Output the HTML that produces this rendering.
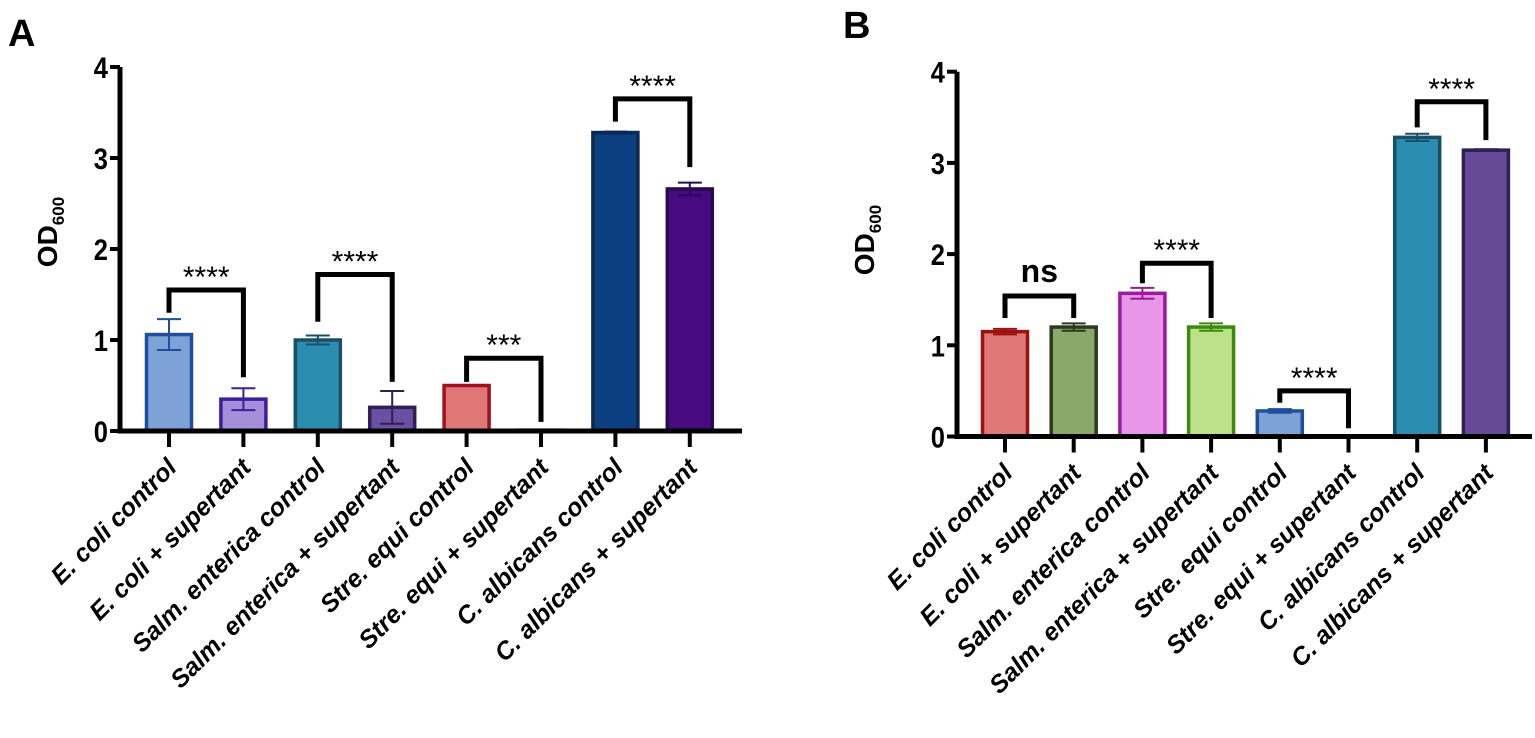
<!DOCTYPE html>
<html><head><meta charset="utf-8">
<style>
html,body{margin:0;padding:0;background:#fff;}
svg{display:block;font-family:"Liberation Sans",Arial,sans-serif;}
</style></head>
<body>
<svg id="fig" width="1535" height="738" viewBox="0 0 1535 738">
<text x="8" y="46" font-size="38" font-weight="bold">A</text>
<text x="843" y="38" font-size="38" font-weight="bold">B</text>
<g id="pa"></g>
<g id="pb"></g>
</svg>
<script>
const categories = ["E. coli control","E. coli + supertant","Salm. enterica control","Salm. enterica + supertant","Stre. equi control","Stre. equi + supertant","C. albicans control","C. albicans + supertant"];
const yTicks = [0,1,2,3,4];
const valuesA = [1.06,0.35,1.0,0.26,0.5,0.01,3.28,2.66];
const errorsA = [0.17,0.12,0.05,0.18,0,0,0.01,0.07];
const valuesB = [1.15,1.2,1.57,1.2,0.28,0,3.28,3.14];
const errorsB = [0.03,0.04,0.06,0.04,0.02,0,0.04,0.01];
const sigLabelsA = ["****","****","***","****"];
const sigTopsA = [1.55,1.72,0.8,3.65];
const sigLeftA = [1.3,1.2,0.54,3.4];
const sigRightA = [0.59,0.54,0.1,2.9];
const sigLabelsB = ["ns","****","****","****"];
const sigTopsB = [1.54,1.9,0.5,3.67];
const sigLeftB = [1.3,1.68,0.37,3.39];
const sigRightB = [1.3,1.3,0.09,3.25];
const fillA = ["#7ea2d6","#a68fd9","#2b8db0","#6b4fa0","#e07777","#cccccc","#0b3f7f","#470a80"];
const strokeA = ["#1f4e9c","#3d1f9c","#1a4f66","#2e1f55","#a01020","#888888","#0a2a50","#2a0a50"];
const fillB = ["#e07777","#8aa86a","#e896e8","#bde08a","#7ea2d6","#cccccc","#2b8db0","#664a96"];
const strokeB = ["#9c1010","#2a3a20","#9c1a9c","#3d8a10","#1f4e9c","#888888","#1a4f66","#2e1f55"];

const NS="http://www.w3.org/2000/svg";
function mk(parent,tag,attrs){const e=document.createElementNS(NS,tag);for(const k in attrs)e.setAttribute(k,attrs[k]);parent.appendChild(e);return e;}

function drawPanel(g,cfg){
  const y=v=>cfg.y0-v*cfg.unit;
  const x=i=>cfg.xs0+i*cfg.dx;
  const bw=cfg.bw;
  cfg.values.forEach((v,i)=>{
    if(v<=0.001 && i===5){ return; }
    const r=mk(g,'rect',{x:x(i)-bw/2,y:y(v),width:bw,height:Math.max(1,y(0)-y(v)),fill:cfg.fill[i],stroke:cfg.stroke[i],'stroke-width':3.5});
    
    
    const e=cfg.errors[i];
    if(e>0){
      const eb=mk(g,'path',{d:`M${x(i)} ${y(v+e)}V${y(Math.max(0,v-e))}M${x(i)-12} ${y(v+e)}H${x(i)+12}M${x(i)-12} ${y(Math.max(0,v-e))}H${x(i)+12}`,stroke:cfg.stroke[i],'stroke-width':2,fill:'none'});
      
      
    }
  });
  if(cfg.values[5]<=0.001){
    const r=mk(g,'rect',{x:x(5)-bw/2+4,y:y(0)-2,width:bw-8,height:2,fill:'#999'});
    
    
  }
  const ax=mk(g,'path',{d:`M${cfg.axX} ${y(4)}V${y(0)}H${cfg.axEnd}`,stroke:'#000','stroke-width':5,fill:'none'});
  
  
  yTicks.forEach(t=>{
    const tk=mk(g,'line',{x1:cfg.axX-10,x2:cfg.axX,y1:y(t),y2:y(t),stroke:'#000','stroke-width':4});
    
    
    const tl=mk(g,'text',{x:cfg.axX-12,y:y(t)+11,'text-anchor':'end','font-size':30,'font-weight':'bold',transform:`translate(${cfg.axX-12} 0) scale(0.85 1) translate(${-(cfg.axX-12)} 0)`});
    tl.textContent=t;
    
    
  });
  categories.forEach((c,i)=>{
    const tk=mk(g,'line',{x1:x(i),x2:x(i),y1:y(0),y2:y(0)+16,stroke:'#000','stroke-width':4});
    
    
    const lx=x(i)+9, ly=y(0)+38;
    const tl=mk(g,'text',{x:lx,y:ly,'text-anchor':'end','font-size':25,'font-weight':'bold','font-style':'italic',transform:`rotate(-45 ${lx} ${ly})`});
    tl.textContent=c;
    
    
  });
  cfg.sig.forEach((s,k)=>{
    const i0=k*2, i1=k*2+1;
    const br=mk(g,'path',{d:`M${x(i0)} ${y(cfg.sigL[k])}V${y(cfg.sigT[k])}H${x(i1)}V${y(cfg.sigR[k])}`,stroke:'#000','stroke-width':5,fill:'none'});
    
    
    const isNs=s==='ns';
    const st=mk(g,'text',{x:(x(i0)+x(i1))/2,y:y(cfg.sigT[k])+(isNs?-14:-3),'text-anchor':'middle','font-size':isNs?32:30,'font-weight':isNs?'bold':'normal'});
    st.textContent=s;
    
    
  });
  const yt=mk(g,'text',{x:cfg.titleX,y:cfg.titleY,'text-anchor':'middle','font-size':28,'font-weight':'bold',transform:`rotate(-90 ${cfg.titleX} ${cfg.titleY})`});
  yt.innerHTML='OD<tspan font-size="17" dy="7">600</tspan>';
  
  
}

drawPanel(document.getElementById('pa'),{y0:431,unit:91,xs0:169,dx:74.4,bw:45,axX:120,axEnd:742,values:valuesA,errors:errorsA,fill:fillA,stroke:strokeA,sig:sigLabelsA,sigT:sigTopsA,sigL:sigLeftA,sigR:sigRightA,titleX:57,titleY:232});
drawPanel(document.getElementById('pb'),{y0:436.5,unit:91.2,xs0:1005,dx:68.7,bw:45,axX:957,axEnd:1532,values:valuesB,errors:errorsB,fill:fillB,stroke:strokeB,sig:sigLabelsB,sigT:sigTopsB,sigL:sigLeftB,sigR:sigRightB,titleX:874,titleY:240});
</script>
</body></html>
